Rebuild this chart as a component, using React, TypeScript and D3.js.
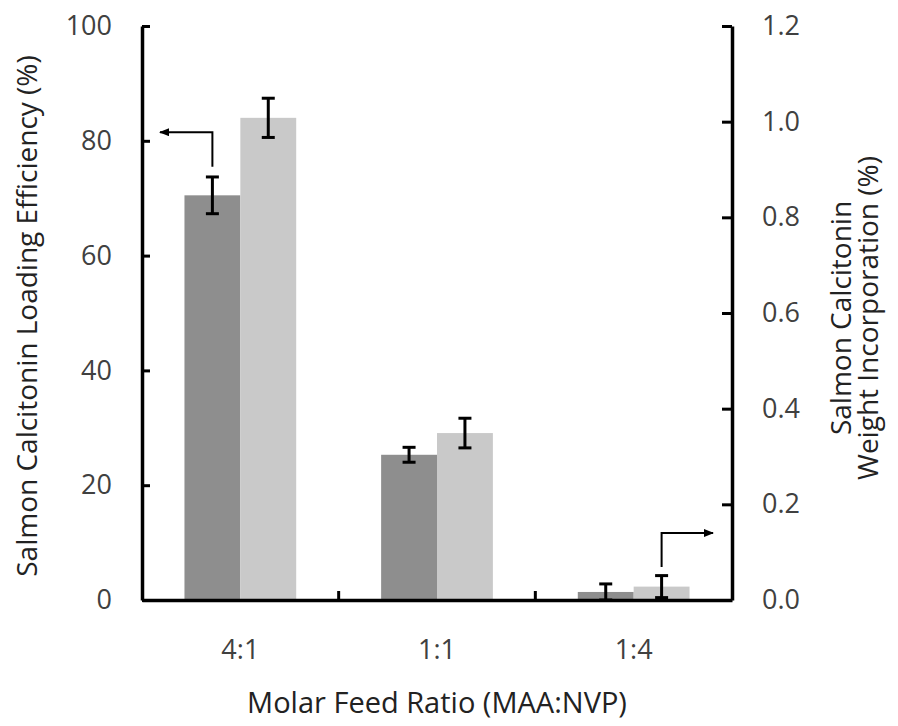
import * as d3 from "d3";
import { useEffect, useRef } from "react";

const categories = ["4:1", "1:1", "1:4"];
const seriesKeys = ["efficiency", "incorporation"];
// loading efficiency (%), left axis
const efficiency = [70.5, 25.3, 1.4];
const efficiencyErr = [3.2, 1.3, 1.4];
// weight incorporation (%), right axis
const incorporation = [1.008, 0.349, 0.028];
const incorporationErr = [0.041, 0.031, 0.023];
const leftTicks = [0, 20, 40, 60, 80, 100];
const rightTicks = [0, 0.2, 0.4, 0.6, 0.8, 1.0, 1.2];

export default function App() {
  const ref = useRef<SVGSVGElement>(null);

  useEffect(() => {
    const svg = d3.select(ref.current);
    svg.selectAll("*").remove();

    const left = 142, right = 732, top = 26, bottom = 600;
    const font = "'Open Sans', sans-serif";
    const tickFont = "27px";
    const titleFont = "28px";

    const x = d3.scaleBand().domain(categories).range([left, right]);
    const xs = d3.scaleBand().domain(seriesKeys).range([0, x.bandwidth()]).paddingOuter(0.76);
    const yL = d3.scaleLinear().domain([0, 100]).range([bottom, top]);
    const yR = d3.scaleLinear().domain([0, 1.2]).range([bottom, top]);

    const g = svg.append("g");

    // --- bars ---
    const rows = categories.map((c, i) => ({
      c,
      vals: [
        { key: "efficiency", y: yL(efficiency[i]), lo: yL(efficiency[i] - efficiencyErr[i]), hi: yL(efficiency[i] + efficiencyErr[i]), fill: "#8e8e8e" },
        { key: "incorporation", y: yR(incorporation[i]), lo: yR(incorporation[i] - incorporationErr[i]), hi: yR(incorporation[i] + incorporationErr[i]), fill: "#c9c9c9" },
      ],
    }));

    rows.forEach(r => {
      r.vals.forEach(v => {
        const bx = x(r.c)! + xs(v.key)!;
        g.append("rect")
          .attr("x", bx)
          .attr("y", v.y)
          .attr("width", xs.bandwidth())
          .attr("height", bottom - v.y)
          .attr("fill", v.fill);
      });
    });

    // --- error bars ---
    rows.forEach(r => {
      r.vals.forEach(v => {
        const cx = x(r.c)! + xs(v.key)! + xs.bandwidth() / 2;
        const eb = g.append("g").attr("stroke", "#000").attr("stroke-width", 3);
        eb.append("line").attr("x1", cx).attr("x2", cx).attr("y1", v.hi).attr("y2", v.lo);
        eb.append("line").attr("x1", cx - 6.5).attr("x2", cx + 6.5).attr("y1", v.hi).attr("y2", v.hi);
        eb.append("line").attr("x1", cx - 6.5).attr("x2", cx + 6.5).attr("y1", v.lo).attr("y2", v.lo);
      });
    });

    // --- left axis (ticks inward) ---
    g.append("g")
      .attr("transform", `translate(${left},0)`)
      .call(d3.axisLeft(yL).tickValues(leftTicks).tickSizeInner(-8).tickSizeOuter(0).tickPadding(30).tickFormat(d3.format("d")))
      .call(a => a.select(".domain").attr("stroke", "#000").attr("stroke-width", 3.5))
      .call(a => a.selectAll("line").attr("stroke", "#000").attr("stroke-width", 3))
      .call(a => a.selectAll("text").attr("fill", "#404040").style("font-family", font).style("font-size", tickFont));

    // --- right axis (ticks inward) ---
    g.append("g")
      .attr("transform", `translate(${right},0)`)
      .call(d3.axisRight(yR).tickValues(rightTicks).tickSizeInner(-10).tickSizeOuter(0).tickPadding(30).tickFormat(d3.format(".1f")))
      .call(a => a.select(".domain").attr("stroke", "#000").attr("stroke-width", 3.5))
      .call(a => a.selectAll("line").attr("stroke", "#000").attr("stroke-width", 3))
      .call(a => a.selectAll("text").attr("fill", "#404040").style("font-family", font).style("font-size", tickFont));

    // --- x axis ---
    g.append("g")
      .attr("transform", `translate(0,${bottom})`)
      .call(d3.axisBottom(x).tickSize(0).tickPadding(40))
      .call(a => a.select(".domain").attr("stroke", "#000").attr("stroke-width", 3.5))
      .call(a => a.selectAll("text").attr("fill", "#404040").style("font-family", font).style("font-size", tickFont));

    // category boundary ticks
    g.append("g")
      .selectAll("line")
      .data(categories.slice(1))
      .join("line")
      .attr("x1", d => x(d)!)
      .attr("x2", d => x(d)!)
      .attr("y1", bottom)
      .attr("y2", bottom - 9)
      .attr("stroke", "#000")
      .attr("stroke-width", 3);

    // --- arrows ---
    const defs = svg.append("defs");
    defs.append("marker")
      .attr("id", "arrowhead")
      .attr("viewBox", "0 0 10 10")
      .attr("refX", 9)
      .attr("refY", 5)
      .attr("markerWidth", 5)
      .attr("markerHeight", 4)
      .attr("orient", "auto")
      .attr("preserveAspectRatio", "none")
      .append("path")
      .attr("d", "M0,0 L10,5 L0,10 Z")
      .attr("fill", "#000");

    const ax1 = x("4:1")! + xs("efficiency")! + xs.bandwidth() / 2;
    g.append("path")
      .attr("d", d3.line()([[ax1, yL(75.5)], [ax1, yL(81.5)], [left + 18, yL(81.5)]]))
      .attr("fill", "none")
      .attr("stroke", "#000")
      .attr("stroke-width", 2)
      .attr("marker-end", "url(#arrowhead)");

    const ax2 = x("1:4")! + xs("incorporation")! + xs.bandwidth() / 2;
    g.append("path")
      .attr("d", d3.line()([[ax2, yR(0.069)], [ax2, yR(0.14)], [right - 19, yR(0.14)]]))
      .attr("fill", "none")
      .attr("stroke", "#000")
      .attr("stroke-width", 2)
      .attr("marker-end", "url(#arrowhead)");

    // --- titles ---
    g.append("text")
      .attr("x", (left + right) / 2)
      .attr("y", 713)
      .attr("text-anchor", "middle")
      .attr("fill", "#222")
      .style("font-family", font)
      .style("font-size", "29px")
      .text("Molar Feed Ratio (MAA:NVP)");

    g.append("text")
      .attr("transform", `translate(37,316) rotate(-90)`)
      .attr("text-anchor", "middle")
      .attr("fill", "#222")
      .style("font-family", font)
      .style("font-size", titleFont)
      .text("Salmon Calcitonin Loading Efficiency (%)");

    const rt = g.append("text")
      .attr("transform", `translate(851,318) rotate(-90)`)
      .attr("text-anchor", "middle")
      .attr("fill", "#222")
      .style("font-family", font)
      .style("font-size", titleFont);
    rt.append("tspan").attr("x", 0).attr("dy", 0).text("Salmon Calcitonin");
    rt.append("tspan").attr("x", 0).attr("dy", "0.95em").text("Weight Incorporation (%)");
  }, []);

  return (
    <svg
      ref={ref}
      width={898}
      height={726}
      style={{ position: "absolute", left: 0, top: 0, background: "#fff" }}
    />
  );
}
